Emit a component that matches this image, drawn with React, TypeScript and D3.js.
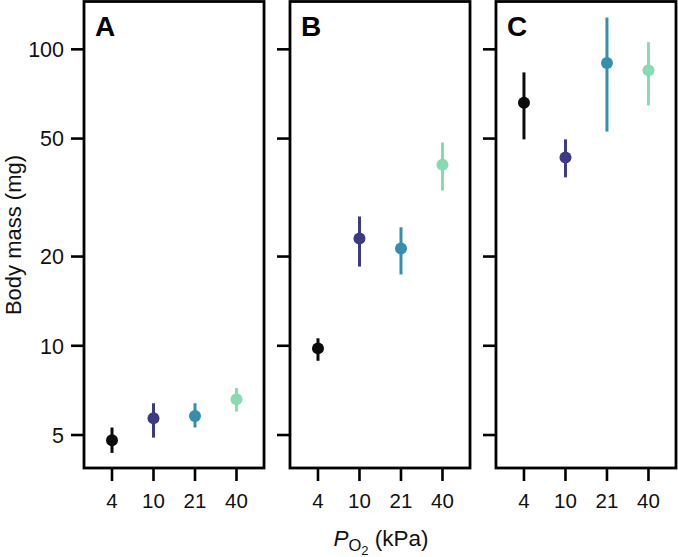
import * as d3 from "d3";

const levels = ["4", "10", "21", "40"];
const panelNames = ["A", "B", "C"];
const colors = ["#0d0a0b", "#3d3a84", "#348ead", "#86dbb1"];

// body mass (mg): mean, lower and upper interval per panel, by PO2 level
const meanA = [4.8, 5.7, 5.8, 6.6];
const lowA = [4.35, 4.9, 5.3, 6.0];
const highA = [5.3, 6.4, 6.4, 7.2];

const meanB = [9.8, 23.0, 21.3, 40.8];
const lowB = [8.9, 18.5, 17.4, 33.4];
const highB = [10.6, 27.3, 25.1, 48.5];

const meanC = [66, 43.2, 90, 85];
const lowC = [49.7, 37.0, 52.8, 64.7];
const highC = [83.6, 49.7, 128, 105.7];

const means = [meanA, meanB, meanC];
const lows = [lowA, lowB, lowC];
const highs = [highA, highB, highC];

const yTicks = [5, 10, 20, 50, 100];

const W = 678;
const H = 557;
const top = 1.5;
const bottom = 468;
const font = "'Liberation Sans', Arial, sans-serif";

export default function App() {
  const y = d3.scaleLog().domain([3.87, 145]).range([bottom, top]);
  const panelX = d3.scaleBand().domain(panelNames).range([84, 676]).paddingInner(0.126);
  const bw = panelX.bandwidth();

  return (
    <div style={{ position: "absolute", left: 0, top: 0 }}>
      <svg width={W} height={H} style={{ display: "block", fontFamily: font }}>
        <rect width={W} height={H} fill="#fff" />
        {panelNames.map((p, pi) => {
          const x0 = panelX(p)!;
          const x = d3.scalePoint().domain(levels).range([x0 + 28, x0 + 152.5]);
          return (
            <g key={p}>
              {/* y ticks */}
              {yTicks.map((t) => (
                <g key={t}>
                  <line x1={x0 - 13} x2={x0} y1={y(t)} y2={y(t)} stroke="#000" strokeWidth={2.6} />
                  {pi === 0 && (
                    <text x={x0 - 20} y={y(t)} dy="0.36em" textAnchor="end" fontSize={21.5} fill="#111">
                      {t}
                    </text>
                  )}
                </g>
              ))}
              {/* x ticks */}
              {levels.map((l) => (
                <g key={l}>
                  <line x1={x(l)} x2={x(l)} y1={bottom} y2={bottom + 13} stroke="#000" strokeWidth={2.6} />
                  <text x={x(l)} y={bottom + 40} textAnchor="middle" fontSize={20.5} fill="#111">
                    {l}
                  </text>
                </g>
              ))}
              {/* error bars and points */}
              {levels.map((l, i) => (
                <g key={"pt" + l}>
                  <line
                    x1={x(l)}
                    x2={x(l)}
                    y1={y(lows[pi][i])}
                    y2={y(highs[pi][i])}
                    stroke={colors[i]}
                    strokeWidth={3}
                  />
                  <circle cx={x(l)} cy={y(means[pi][i])} r={6} fill={colors[i]} />
                </g>
              ))}
              <rect
                x={x0}
                y={top}
                width={bw}
                height={bottom - top}
                fill="none"
                stroke="#000"
                strokeWidth={2.8}
              />
              <text x={x0 + 11} y={36} fontSize={28} fontWeight="bold" fill="#000">
                {p}
              </text>
            </g>
          );
        })}
        <text
          transform={`translate(21,235) rotate(-90)`}
          textAnchor="middle"
          fontSize={22}
          fill="#111"
        >
          Body mass (mg)
        </text>
        <text x={panelX("B")! + bw / 2 + 1} y={546} textAnchor="middle" fontSize={22.5} fill="#111">
          <tspan fontStyle="italic">P</tspan>
          <tspan fontSize={16.5} dy={5}>O</tspan>
          <tspan fontSize={13} dy={4}>2</tspan>
          <tspan dy={-9}> (kPa)</tspan>
        </text>
      </svg>
    </div>
  );
}
